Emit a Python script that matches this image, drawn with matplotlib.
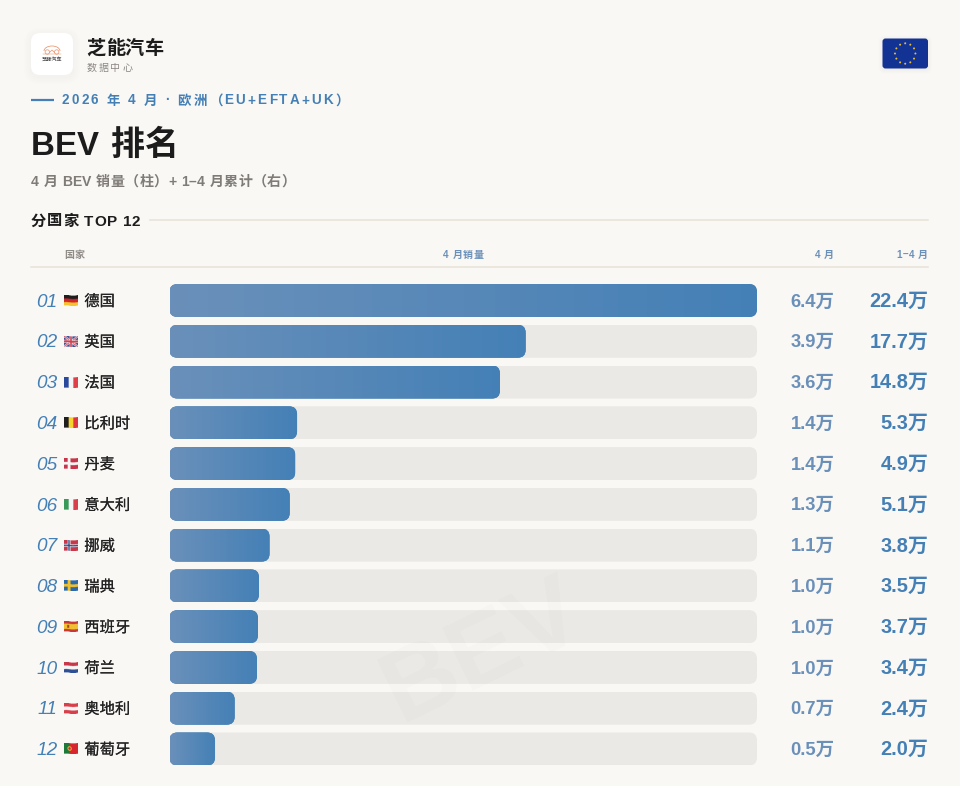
import numpy as np
import matplotlib
matplotlib.use("Agg")
import matplotlib.pyplot as plt
import matplotlib.patheffects as pe
from matplotlib.patches import FancyBboxPatch, Arc, Circle, RegularPolygon
from matplotlib.colors import LinearSegmentedColormap

# Monthly BEV registrations in units of 10,000, April 2026
countries = ["德国", "英国", "法国", "比利时", "丹麦", "意大利",
             "挪威", "瑞典", "西班牙", "荷兰", "奥地利", "葡萄牙"]
flag_codes = ["de", "gb", "fr", "be", "dk", "it", "no", "se", "es", "nl", "at", "pt"]
april_sales = [6.40, 3.88, 3.60, 1.39, 1.37, 1.31, 1.09, 0.975, 0.964, 0.953, 0.71, 0.496]
ytd_sales = [22.4, 17.7, 14.8, 5.3, 4.9, 5.1, 3.8, 3.5, 3.7, 3.4, 2.4, 2.0]

W, H = 960, 786
BG = "#faf8f5"
BLUE = "#4480b6"
SOFT_BLUE = "#6a90ba"
TRACK = "#ebe9e5"
INK = "#1c1c1c"
RULE = "#e9e2d8"

SANS = ["Liberation Sans", "Noto Sans CJK SC", "DejaVu Sans"]
CJK = ["Noto Sans CJK SC", "DejaVu Sans"]
px = 0.72  # font pixels to points at 100 dpi

fig = plt.figure(figsize=(W / 100, H / 100), dpi=100, facecolor=BG)
base = fig.add_axes([0, 0, 1, 1])
base.set_xlim(0, W)
base.set_ylim(H, 0)
base.axis("off")


def advance(s, **kw):
    renderer = fig.canvas.get_renderer()
    a = base.text(0, 0, "|" + s + "|", **kw)
    b = base.text(0, 0, "||", **kw)
    w = a.get_window_extent(renderer).width - b.get_window_extent(renderer).width
    a.remove()
    b.remove()
    return w


def spaced(x, y, s, gap, align="left", **kw):
    """Draw a string one character at a time on baseline y with extra tracking."""
    steps = [advance(ch, **kw) + gap for ch in s]
    total = sum(steps) - gap
    if align == "right":
        x -= total
    elif align == "center":
        x -= total / 2
    for ch, step in zip(s, steps):
        if ch != " ":
            base.text(x, y, ch, va="baseline", ha="left", **kw)
        x += step


def rounded(ax, x, y, w, h, r, **kw):
    p = FancyBboxPatch((x, y), w, h, boxstyle=f"round,pad=0,rounding_size={r}", **kw)
    ax.add_patch(p)
    return p


def soft_shadow(x, y, w, h, r, layers=6, spread=1.2, alpha=0.004, dy=2):
    for i in range(layers, 0, -1):
        g = i * spread
        rounded(base, x - g, y - g + dy, w + 2 * g, h + 2 * g, r + g,
                fc="black", ec="none", alpha=alpha)


# Brand block
soft_shadow(31, 33, 42, 42, 9)
rounded(base, 31, 33, 42, 42, 9, fc="white", ec="none")
car = "#e9926a"
base.add_patch(Arc((52, 51), 16, 10, theta1=180, theta2=360, color=car, lw=0.55))
for cx in (47.3, 56.7):
    base.add_patch(Circle((cx, 52), 2.2, fc="none", ec=car, lw=0.5))
base.plot([49.5, 52, 54.5], [52.5, 50, 52.5], color=car, lw=0.5)
base.plot([43.2, 61], [54.3, 54.3], color=car, lw=0.35)
base.text(52, 59, "芝能汽车", family=CJK, weight="bold", fontsize=3.7, color="#555555",
          ha="center", va="center")
spaced(86.6, 54, "芝能汽车", 0, family=CJK, weight="bold", fontsize=19.2 * px, color=INK)
spaced(87, 71.3, "数据中心", 1.7, family=CJK, fontsize=10 * px, color="#8a8784")

# EU flag in the corner
soft_shadow(882.5, 38.5, 45.5, 30, 3, layers=4, spread=1, alpha=0.006, dy=1)
rounded(base, 882.5, 38.5, 45.5, 30, 3, fc="#123294", ec="none")
for k in range(12):
    t = np.pi / 2 - k * np.pi / 6
    base.add_patch(RegularPolygon((905.2 + 10.2 * np.cos(t), 53.5 - 10.2 * np.sin(t)), 5,
                                  radius=1.15, orientation=np.pi, fc="#e6bb38", ec="none"))

# Headline block
base.plot([31, 54], [99.5, 99.5], color=BLUE, lw=1.6, solid_capstyle="butt")
spaced(62, 104.5, "2026 年 4 月 · 欧洲（EU+EFTA+UK）", 2.14, family=SANS, weight="bold",
       fontsize=13.5 * px, color=BLUE)
spaced(31, 155, "BEV", 0, family=SANS, weight="bold", fontsize=33 * px, color=INK)
spaced(110.5, 155, "排名", 0, family=SANS, weight="bold", fontsize=34 * px, color=INK)
spaced(31, 186, "4 月 BEV 销量（柱）+ 1–4 月累计（右）", 0.37, family=SANS, weight="bold",
       fontsize=14 * px, color="#7f7c78")

# Section header and table header
spaced(31, 225.5, "分国家 TOP 12", 0.75, family=SANS, weight="bold", fontsize=15.3 * px, color=INK)
base.plot([150, 928], [220, 220], color=RULE, lw=1.1)
base.plot([31, 928], [267, 267], color=RULE, lw=1.1)
head = dict(family=SANS, weight="bold", fontsize=10 * px)
spaced(64, 258.3, "国家", 0.5, color="#8f8c88", **head)
spaced(463.5, 258.3, "4 月销量", 0.5, align="center", color=SOFT_BLUE, **head)
spaced(834, 258.3, "4 月", 0.5, align="right", color=SOFT_BLUE, **head)
spaced(928, 258.3, "1–4 月", 0.5, align="right", color=SOFT_BLUE, **head)

# Bar panel: x runs in 10,000 units, y in row indices
ROW0, ROW_STEP = 300.5, 40.77
TOP, BOTTOM = 280, 770
LEFT, RIGHT = 169.5, 757
bars_ax = fig.add_axes([LEFT / W, 1 - BOTTOM / H, (RIGHT - LEFT) / W, (BOTTOM - TOP) / H])
bars_ax.patch.set_alpha(0)
bars_ax.axis("off")
x_max = max(april_sales)
y_top = (TOP - ROW0) / ROW_STEP
y_bottom = (BOTTOM - ROW0) / ROW_STEP
bars_ax.set_xlim(0, x_max)
bars_ax.set_ylim(y_bottom, y_top)

BAR_H = 33 / ROW_STEP
r_x = 8 * x_max / (RIGHT - LEFT)
r_y = 8 / ROW_STEP
ramp = LinearSegmentedColormap.from_list("bar", [SOFT_BLUE, BLUE])
grad = np.linspace(0, 1, 256).reshape(1, -1)
rows = np.arange(len(countries))

tracks = bars_ax.barh(rows, [x_max] * len(rows), height=BAR_H, color=TRACK, lw=0)
bars = bars_ax.barh(rows, april_sales, height=BAR_H, color=BLUE, lw=0, zorder=2)

for y, v, track, bar in zip(rows, april_sales, tracks, bars):
    for patch, val in ((track, x_max), (bar, v)):
        clip = FancyBboxPatch((0, y - BAR_H / 2), val, BAR_H,
                              boxstyle=f"round,pad=0,rounding_size={r_x}",
                              mutation_aspect=r_y / r_x, fc="none", ec="none",
                              transform=bars_ax.transData)
        bars_ax.add_patch(clip)
        patch.set_clip_path(clip)
        if patch is bar:
            img = bars_ax.imshow(grad, cmap=ramp, aspect="auto", zorder=3,
                                 extent=(0, val, y + BAR_H / 2, y - BAR_H / 2),
                                 interpolation="bilinear")
            img.set_clip_path(clip)
bars_ax.set_xlim(0, x_max)
bars_ax.set_ylim(y_bottom, y_top)


# Small waving emoji-like flags
def flag_pixels(code, w=84, h=60):
    v, u = np.mgrid[0:h, 0:w]
    u = (u + 0.5) / w
    v = (v + 0.5) / h
    # each column is shifted to give the cloth a gentle wave
    v_w = (v - 0.5) * 1.03 + 0.5 + 0.025 * np.sin(u * 2 * np.pi + 0.6)
    img = np.ones((h, w, 3))

    def c(hexcode):
        return np.array(matplotlib.colors.to_rgb(hexcode))

    def hbands(cols):
        n = len(cols)
        for i, col in enumerate(cols):
            img[(v_w >= i / n) & (v_w < (i + 1) / n)] = c(col)

    def vbands(cols):
        n = len(cols)
        for i, col in enumerate(cols):
            img[(u >= i / n) & (u < (i + 1) / n)] = c(col)

    def nordic(field, cross, inner=None):
        img[:] = c(field)
        cw, ch = 0.10, 0.13
        img[(np.abs(u - 0.36) < cw) | (np.abs(v_w - 0.5) < ch)] = c(cross)
        if inner:
            img[(np.abs(u - 0.36) < cw * 0.5) | (np.abs(v_w - 0.5) < ch * 0.5)] = c(inner)

    if code == "de":
        hbands(["#1f1f1f", "#d3232a", "#f4c430"])
    elif code == "fr":
        vbands(["#2a4a9c", "#f5f5f5", "#e0404a"])
    elif code == "be":
        vbands(["#1f1f1f", "#f6d32d", "#e0343f"])
    elif code == "it":
        vbands(["#3a9a5a", "#f5f5f5", "#d8404a"])
    elif code == "nl":
        hbands(["#c8384a", "#f5f5f5", "#2f4f95"])
    elif code == "at":
        hbands(["#d8404a", "#f5f5f5", "#d8404a"])
    elif code == "es":
        hbands(["#c8383a", "#f0c030", "#f0c030", "#c8383a"])
        img[(np.abs(u - 0.3) < 0.07) & (np.abs(v_w - 0.5) < 0.14)] = c("#a8402a")
    elif code == "pt":
        img[:] = c("#d8262f")
        img[u < 0.4] = c("#1d7a3a")
        img[(u - 0.4) ** 2 * 2 + (v_w - 0.5) ** 2 < 0.045] = c("#f0c83a")
        img[(u - 0.4) ** 2 * 2 + (v_w - 0.5) ** 2 < 0.016] = c("#c8283a")
    elif code == "dk":
        nordic("#c8344a", "#f5f5f5")
    elif code == "no":
        nordic("#c8384a", "#f5f5f5", "#2f4a8a")
    elif code == "se":
        nordic("#2a6aaa", "#f0c030")
    elif code == "gb":
        img[:] = c("#3a4f96")
        a = np.abs((v_w - 0.5) - (u - 0.5))
        b = np.abs((v_w - 0.5) + (u - 0.5))
        img[(a < 0.12) | (b < 0.12)] = c("#f5f5f5")
        img[(a < 0.05) | (b < 0.05)] = c("#d04050")
        img[(np.abs(u - 0.5) < 0.10) | (np.abs(v_w - 0.5) < 0.14)] = c("#f5f5f5")
        img[(np.abs(u - 0.5) < 0.06) | (np.abs(v_w - 0.5) < 0.09)] = c("#d04050")
    alpha = ((v_w > 0) & (v_w < 1)).astype(float)
    return np.dstack([img, alpha])


# Row labels and value columns
name_stroke = [pe.withStroke(linewidth=0.1, foreground="#222222")]
for i, (name, code, a, t) in enumerate(zip(countries, flag_codes, april_sales, ytd_sales)):
    cy = ROW0 + i * ROW_STEP
    base.text(57.5, cy + 6.2, f"{i + 1:02d}", family="Liberation Sans", style="italic", fontsize=19 * px,
              color=BLUE, ha="right", va="baseline")
    base.imshow(flag_pixels(code), extent=(64, 78, cy + 5.5, cy - 5.5), aspect="auto",
                interpolation="antialiased", zorder=2)
    base.text(84.3, cy + 5.5, name, family=CJK, fontsize=15.3 * px, color="#222222",
              ha="left", va="baseline", path_effects=name_stroke)
    base.text(834.5, cy + 6, f"{a:.1f}万", family=SANS, weight="bold", fontsize=18.4 * px,
              color=SOFT_BLUE, ha="right", va="baseline")
    base.text(928.5, cy + 6.3, f"{t:.1f}万", family=SANS, weight="bold", fontsize=20 * px,
              color=BLUE, ha="right", va="baseline")
base.set_xlim(0, W)
base.set_ylim(H, 0)

# Faint diagonal watermark over the panel
fig.text(400 / W, 1 - 723 / H, "BEV", family="Liberation Sans", weight="bold", fontsize=102 * px,
         color="#303030", alpha=0.017, rotation=26, rotation_mode="anchor",
         ha="left", va="baseline", zorder=10)

fig.savefig("out.png", dpi=100, facecolor=BG)
